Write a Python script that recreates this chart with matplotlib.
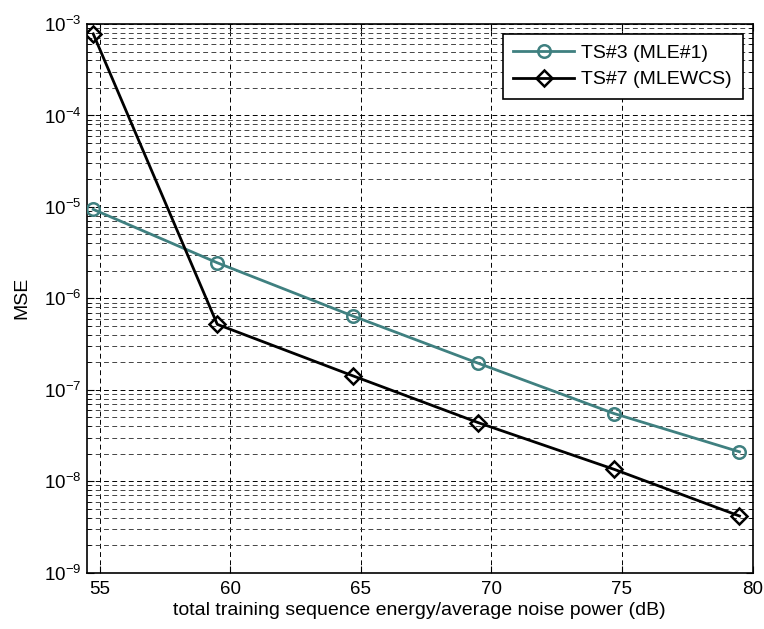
import matplotlib
matplotlib.use('Agg')
from matplotlib import pyplot as plt
from matplotlib.ticker import LogLocator, FixedLocator, NullFormatter

plt.rcParams['font.family'] = ['Liberation Sans', 'DejaVu Sans']
plt.rcParams['mathtext.fontset'] = 'custom'
plt.rcParams['mathtext.rm'] = 'Liberation Sans'
plt.rcParams['mathtext.it'] = 'Liberation Sans'
plt.rcParams['mathtext.default'] = 'regular'

snr_ts3 = [54.75, 59.5, 64.7, 69.5, 74.7, 79.5]
mse_ts3 = [9.4e-6, 2.45e-6, 6.4e-7, 1.95e-7, 5.5e-8, 2.1e-8]
snr_ts7 = [54.75, 59.5, 64.7, 69.5, 74.7, 79.5]
mse_ts7 = [7.8e-4, 5.2e-7, 1.42e-7, 4.37e-8, 1.35e-8, 4.17e-9]
xticks = [55, 60, 65, 70, 75, 80]
decades = [-9, -8, -7, -6, -5, -4, -3]


def plot():
    fig = plt.figure(figsize=(7.64, 6.29), dpi=100)
    ax = fig.add_axes([0.1135, 0.0895, 0.8715, 0.8723])
    ax.set_yscale('log')

    ax.plot(snr_ts3, mse_ts3, color='#3f8080', lw=2, marker='o', ms=9,
            mfc='none', mew=1.8, label='TS#3 (MLE#1)', zorder=3)
    ax.plot(snr_ts7, mse_ts7, color='black', lw=2, marker='D', ms=8,
            mfc='none', mew=1.8, label='TS#7 (MLEWCS)', zorder=3)

    ax.set_xlim(54.5, 80)
    ax.set_ylim(1e-9, 1e-3)
    ax.xaxis.set_major_locator(FixedLocator(xticks))
    ax.yaxis.set_major_locator(FixedLocator([10.0 ** d for d in decades]))
    ax.set_yticklabels(['$10^{%d}$' % d for d in decades])
    ax.yaxis.set_minor_locator(LogLocator(base=10, subs=range(2, 10)))
    ax.yaxis.set_minor_formatter(NullFormatter())

    ax.grid(True, which='major', color='black', ls=(0, (5, 3.5)), lw=0.7)
    ax.grid(True, which='minor', axis='y', color='#444444', ls=(0, (5, 3.5)), lw=0.7)
    ax.tick_params(which='both', direction='in', top=True, right=True, labelsize=13.5)
    ax.tick_params(which='major', length=5)
    ax.tick_params(which='minor', length=3)
    ax.tick_params(axis='x', pad=6)
    for s in ax.spines.values():
        s.set_linewidth(1.2)

    ax.set_xlabel('total training sequence energy/average noise power (dB)', fontsize=14, labelpad=3)
    ax.set_ylabel('MSE', fontsize=14, labelpad=10)
    leg = ax.legend(loc='upper right', fontsize=14, fancybox=False, framealpha=1,
                    edgecolor='black', borderaxespad=0.5, borderpad=0.55,
                    handlelength=3.1, handletextpad=0.4, labelspacing=0.45)
    leg.get_frame().set_linewidth(1.2)

    fig.savefig('out.png', dpi=100)


plot()
